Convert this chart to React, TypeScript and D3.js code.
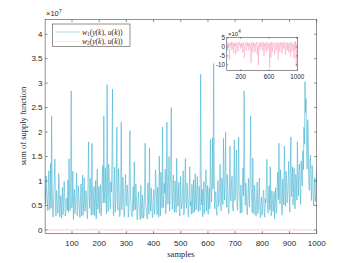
import * as d3 from "d3";

// sum of supply function, w1, in units of 1e6, read every 4 samples (1, 5, 9, ...)
const w1Values = [
  8.5, 11.0, 6.2, 9.5, 4.1, 13.6, 23.3, 3.2, 7.4, 14.5,
  2.8, 6.9, 3.5, 9.8, 5.1, 2.4, 8.7, 4.6, 7.9, 3.3,
  6.4, 10.2, 14.5, 3.9, 28.4, 5.6, 2.1, 8.3, 4.8, 11.6,
  3.6, 7.1, 2.5, 9.4, 5.8, 3.0, 10.6, 4.2, 6.7, 2.3,
  18.0, 4.4, 7.6, 17.7, 3.1, 8.9, 5.3, 2.2, 12.4, 6.0,
  3.4, 9.2, 4.7, 13.1, 23.3, 5.5, 8.1, 29.7, 3.8, 10.9,
  4.3, 7.7, 28.8, 2.9, 12.8, 6.2, 21.0, 4.0, 9.6, 3.2,
  22.0, 5.9, 8.4, 2.6, 11.3, 4.9, 7.3, 3.7, 20.3, 5.0,
  2.7, 8.8, 13.9, 4.1, 6.5, 2.0, 7.8, 3.5, 9.1, 2.4,
  5.7, 3.0, 17.7, 4.5, 2.2, 7.0, 16.7, 3.8, 6.1, 2.5,
  8.2, 4.0, 10.4, 3.1, 6.8, 15.1, 2.9, 9.0, 21.0, 4.6,
  7.5, 3.3, 22.0, 5.2, 15.0, 8.6, 25.0, 4.2, 11.2, 3.6,
  6.9, 14.6, 4.8, 9.7, 2.8, 7.2, 5.4, 12.1, 3.9, 14.6,
  4.4, 8.0, 2.6, 12.9, 5.8, 9.3, 3.4, 6.6, 11.5, 4.1,
  10.9, 3.7, 7.4, 31.8, 5.1, 2.7, 9.9, 4.5, 12.3, 6.3,
  3.2, 8.5, 18.5, 5.7, 18.8, 34.0, 4.3, 7.8, 3.0, 10.1,
  5.6, 13.4, 3.9, 8.7, 18.7, 6.1, 20.0, 4.6, 9.4, 3.3,
  17.1, 5.9, 11.0, 3.8, 18.4, 7.0, 16.3, 4.0, 18.9, 6.4,
  9.2, 3.5, 12.7, 28.4, 5.0, 8.3, 3.1, 10.5, 4.7, 23.3,
  6.0, 14.7, 3.2, 7.6, 2.8, 9.8, 4.2, 10.6, 2.5, 6.7,
  3.9, 8.1, 2.6, 5.5, 14.4, 3.4, 9.0, 12.9, 2.9, 6.2,
  4.5, 2.3, 8.6, 3.7, 11.8, 17.7, 5.3, 9.5, 3.0, 7.4,
  17.1, 4.8, 10.3, 6.6, 14.0, 3.6, 19.0, 8.2, 5.1, 12.6,
  4.3, 9.7, 18.0, 6.9, 13.5, 5.2, 10.8, 16.2, 21.0, 30.3,
  26.8, 12.4, 19.5, 8.1, 15.3, 6.0, 11.7, 4.9, 10.6, 7.2,
];

// w1 readings in between (samples 3, 7, 11, ...), units of 1e6
const w1MidValues = [
  5.3, 7.8, 3.9, 12.1, 6.0, 4.4, 9.1, 2.6, 10.3, 5.0,
  8.1, 3.4, 11.5, 2.7, 7.0, 5.9, 3.1, 9.9, 2.8, 6.5,
  4.0, 3.6, 7.2, 9.6, 4.5, 12.0, 6.8, 3.3, 7.4, 2.9,
  9.0, 4.6, 6.1, 2.8, 11.2, 5.4, 3.8, 8.0, 3.5, 10.4,
  6.7, 10.5, 3.0, 9.1, 5.6, 2.9, 10.1, 7.3, 4.2, 8.8,
  7.6, 2.9, 10.4, 5.5, 8.0, 12.7, 3.3, 9.0, 13.4, 6.1,
  9.8, 14.0, 4.6, 8.5, 3.6, 10.1, 5.2, 12.5, 2.7, 7.9,
  4.1, 10.8, 3.0, 7.6, 5.3, 9.2, 2.6, 11.4, 6.9, 3.2,
  6.0, 3.9, 5.2, 9.4, 2.3, 6.7, 4.4, 2.1, 5.6, 7.1,
  2.4, 8.3, 5.0, 2.8, 9.6, 3.2, 5.9, 8.6, 3.0, 6.6,
  3.2, 12.3, 5.4, 8.7, 2.6, 7.9, 11.8, 4.4, 6.2, 9.5,
  12.4, 5.9, 8.2, 10.7, 3.8, 12.9, 6.6, 9.4, 5.0, 10.0,
  3.6, 8.4, 6.1, 3.5, 10.9, 4.3, 8.8, 3.0, 9.3, 6.0,
  9.6, 3.1, 7.7, 5.0, 3.2, 6.4, 10.2, 3.7, 5.9, 8.6,
  5.2, 8.9, 4.0, 12.5, 8.3, 6.4, 3.3, 10.7, 3.8, 9.1,
  7.0, 4.3, 10.2, 9.1, 8.4, 12.1, 7.7, 3.6, 9.0, 4.8,
  9.5, 4.9, 10.6, 5.2, 9.8, 12.0, 7.5, 11.3, 3.9, 8.0,
  6.5, 10.2, 4.4, 9.3, 6.0, 11.8, 5.3, 9.7, 7.8, 3.4,
  5.8, 9.4, 7.0, 12.2, 9.6, 3.7, 7.2, 5.8, 11.1, 8.9,
  3.5, 7.6, 9.1, 4.0, 6.3, 3.3, 7.0, 3.9, 5.4, 3.0,
  7.2, 3.6, 6.4, 9.2, 4.9, 7.1, 4.1, 5.1, 8.0, 3.7,
  7.9, 5.6, 3.4, 9.6, 6.2, 8.9, 12.3, 4.2, 10.4, 5.1,
  8.8, 12.0, 5.5, 10.1, 7.2, 11.6, 6.8, 12.9, 9.1, 4.6,
  11.4, 6.1, 10.5, 12.8, 7.6, 14.1, 9.0, 12.3, 17.5, 24.0,
  16.0, 22.5, 9.3, 14.0, 8.7, 13.2, 6.6, 9.0, 5.8, 12.0,
];

// w2, in units of 1e4, read every 8 samples
const w2Values = [
  1.5, -2.0, 2.4, 0.3, 1.8, -7.0, 2.1, 0.6, 2.8, -1.5,
  1.2, 2.6, -3.5, 1.9, 0.4, 2.2, -4.0, 1.0, 2.7, 0.8,
  -2.5, 2.0, 1.1, 2.9, -1.0, 1.6, 0.2, 2.3, -3.0, 1.4,
  2.5, -6.0, 0.9, 2.1, 1.7, -2.2, 2.8, 0.5, 1.9, -1.8,
  2.2, 0.7, 1.3, -9.0, 2.6, 1.0, -3.2, 2.4, 0.3, 1.8,
  -2.8, 2.0, 1.5, 2.7, -4.5, 0.8, -10.0, 2.3, 1.2, -1.2,
  2.5, 0.6, 1.9, -2.0, 2.8, 1.1, -5.0, 2.2, 0.4, 1.7,
  -3.0, 2.6, 1.3, -1.5, 2.1, 0.9, -11.5, 2.4, -6.0, 1.6,
  2.9, -2.5, 1.0, 2.3, 0.7, -4.0, 2.0, 1.4, -1.8, 2.6,
  0.5, -7.0, 2.2, 1.1, -2.8, 2.7, 0.8, 1.9, -3.5, 2.4,
  1.3, -1.0, 2.8, 0.6, -4.5, 2.1, 1.6, -2.0, 2.5, 0.9,
  -3.0, 2.3, 1.2, -5.5, 2.7, 0.4, -2.2, 2.0, 1.5, -6.5,
  2.6, -1.5, 3.2, -11.0, 1.8,
];

const xTicks = [100, 200, 300, 400, 500, 600, 700, 800, 900, 1000];
const yTicks = [0, 0.5, 1, 1.5, 2, 2.5, 3, 3.5, 4]; // x 1e7
const insetXTicks = [200, 600, 1000];
const insetYTicks = [5, 0, -5, -10]; // x 1e4

const W1_STEP = 4;
const W2_STEP = 8;

const BLUE = "#45b4d1";
const BLUE_LEGEND = "#9fd9e7";
const PINK = "#f8a8c9";
const AXIS = "#262626";
const SANS = "'Liberation Sans', Arial, sans-serif";
const SERIF = "'Liberation Serif', 'DejaVu Serif', serif";

type Pt = { s: number; v: number };

const w1: Pt[] = w1Values.flatMap((v, i) => [
  { s: 1 + i * W1_STEP, v },
  { s: 3 + i * W1_STEP, v: w1MidValues[i] },
]);
const w2: Pt[] = w2Values.map((v, i) => ({ s: 1 + i * W2_STEP, v }));

const MathLabel = ({ x, y, sub }: { x: number; y: number; sub: string }) => (
  <text x={x} y={y} fontFamily={SERIF} fontSize={7.6} fill={AXIS}>
    <tspan fontStyle="italic">w</tspan>
    <tspan fontSize={5.2} dy={1.6}>{sub}</tspan>
    <tspan dy={-1.6}>(</tspan>
    <tspan fontStyle="italic">y</tspan>
    <tspan>(</tspan>
    <tspan fontStyle="italic">k</tspan>
    <tspan>), </tspan>
    <tspan fontStyle="italic">u</tspan>
    <tspan>(</tspan>
    <tspan fontStyle="italic">k</tspan>
    <tspan>))</tspan>
  </text>
);

export default function App() {
  const left = 45.1, right = 316.7, top = 19.5, bottom = 233.7;
  const x = d3.scaleLinear().domain([1, 1000]).range([left, right]);
  // main y in units of 1e6
  const y = d3.scaleLinear().domain([-0.78, 43.0]).range([bottom, top]);

  const lineW1 = d3.line<Pt>().x(d => x(d.s)).y(d => y(d.v));
  const lineW2Main = d3.line<Pt>().x(d => x(d.s)).y(d => y(d.v / 100));

  // inset
  const iL = 226.8, iR = 297.3, iT = 37.3, iB = 70.7;
  const ix = d3.scaleLinear().domain([1, 1000]).range([iL, iR]);
  const iy = d3.scaleLinear().domain([-13.2, 5.3]).range([iB, iT]);
  const lineW2 = d3.line<Pt>().x(d => ix(d.s)).y(d => iy(d.v));

  const tk = 2.6;

  return (
    <svg
      width={350}
      height={263}
      style={{ position: "absolute", left: 0, top: 0, background: "#fff" }}
    >
      <defs>
        <clipPath id="mainClip">
          <rect x={left} y={top} width={right - left} height={bottom - top} />
        </clipPath>
        <clipPath id="insetClip">
          <rect x={iL} y={iT} width={iR - iL} height={iB - iT} />
        </clipPath>
      </defs>

      {/* data */}
      <g clipPath="url(#mainClip)">
        <path d={lineW1(w1) || ""} fill="none" stroke={BLUE} strokeWidth={0.6} strokeLinejoin="round" />
        <path d={lineW2Main(w2) || ""} fill="none" stroke={PINK} strokeWidth={0.6} />
      </g>

      {/* main axes frame and ticks */}
      <rect x={left} y={top} width={right - left} height={bottom - top} fill="none" stroke={AXIS} strokeWidth={0.5} />
      {xTicks.map(t => (
        <g key={"x" + t}>
          <line x1={x(t)} x2={x(t)} y1={bottom} y2={bottom - tk} stroke={AXIS} strokeWidth={0.5} />
          <line x1={x(t)} x2={x(t)} y1={top} y2={top + tk} stroke={AXIS} strokeWidth={0.5} />
          <text x={x(t)} y={246} textAnchor="middle" fontFamily={SANS} fontSize={8} fill={AXIS}>{t}</text>
        </g>
      ))}
      {yTicks.map(t => (
        <g key={"y" + t}>
          <line x1={left} x2={left + tk} y1={y(t * 10)} y2={y(t * 10)} stroke={AXIS} strokeWidth={0.5} />
          <line x1={right} x2={right - tk} y1={y(t * 10)} y2={y(t * 10)} stroke={AXIS} strokeWidth={0.5} />
          <text x={42.5} y={y(t * 10) + 2.8} textAnchor="end" fontFamily={SANS} fontSize={8} fill={AXIS}>{t}</text>
        </g>
      ))}
      <text x={46} y={16} fontFamily={SANS} fontSize={7.5} fill={AXIS}>
        ×10<tspan fontSize={5.5} dy={-3}>7</tspan>
      </text>

      {/* axis titles */}
      <text x={181} y={257} textAnchor="middle" fontFamily={SERIF} fontSize={8.5} fill={AXIS}>samples</text>
      <text
        transform={`translate(25.5,126) rotate(-90)`}
        textAnchor="middle"
        fontFamily={SERIF}
        fontSize={8.5}
        fill={AXIS}
      >
        sum of supply function
      </text>

      {/* legend */}
      <rect x={52.3} y={24} width={77.7} height={22.3} fill="#fff" stroke={AXIS} strokeWidth={0.5} />
      <line x1={55} x2={80} y1={32} y2={32} stroke={BLUE_LEGEND} strokeWidth={0.9} />
      <line x1={55} x2={80} y1={41.3} y2={41.3} stroke={PINK} strokeWidth={0.6} opacity={0.6} />
      <MathLabel x={82} y={34.5} sub="1" />
      <MathLabel x={82} y={43.8} sub="2" />

      {/* inset */}
      <rect x={iL} y={iT} width={iR - iL} height={iB - iT} fill="#fff" />
      <g clipPath="url(#insetClip)">
        <path d={lineW2(w2) || ""} fill="none" stroke={PINK} strokeWidth={0.6} />
      </g>
      <rect x={iL} y={iT} width={iR - iL} height={iB - iT} fill="none" stroke={AXIS} strokeWidth={0.5} />
      {insetXTicks.map(t => (
        <g key={"ix" + t}>
          <line x1={ix(t)} x2={ix(t)} y1={iB} y2={iB - 1.5} stroke={AXIS} strokeWidth={0.5} />
          <line x1={ix(t)} x2={ix(t)} y1={iT} y2={iT + 1.5} stroke={AXIS} strokeWidth={0.5} />
          <text x={ix(t)} y={79} textAnchor="middle" fontFamily={SANS} fontSize={6.3} fill={AXIS}>{t}</text>
        </g>
      ))}
      {insetYTicks.map(t => (
        <g key={"iy" + t}>
          <line x1={iL} x2={iL + 1.5} y1={iy(t)} y2={iy(t)} stroke={AXIS} strokeWidth={0.5} />
          <line x1={iR} x2={iR - 1.5} y1={iy(t)} y2={iy(t)} stroke={AXIS} strokeWidth={0.5} />
          <text x={225} y={iy(t) + 2.2} textAnchor="end" fontFamily={SANS} fontSize={6.3} fill={AXIS}>{t}</text>
        </g>
      ))}
      <text x={228} y={35.5} fontFamily={SANS} fontSize={6} fill={AXIS}>
        ×10<tspan fontSize={4.5} dy={-2.5}>4</tspan>
      </text>
    </svg>
  );
}
